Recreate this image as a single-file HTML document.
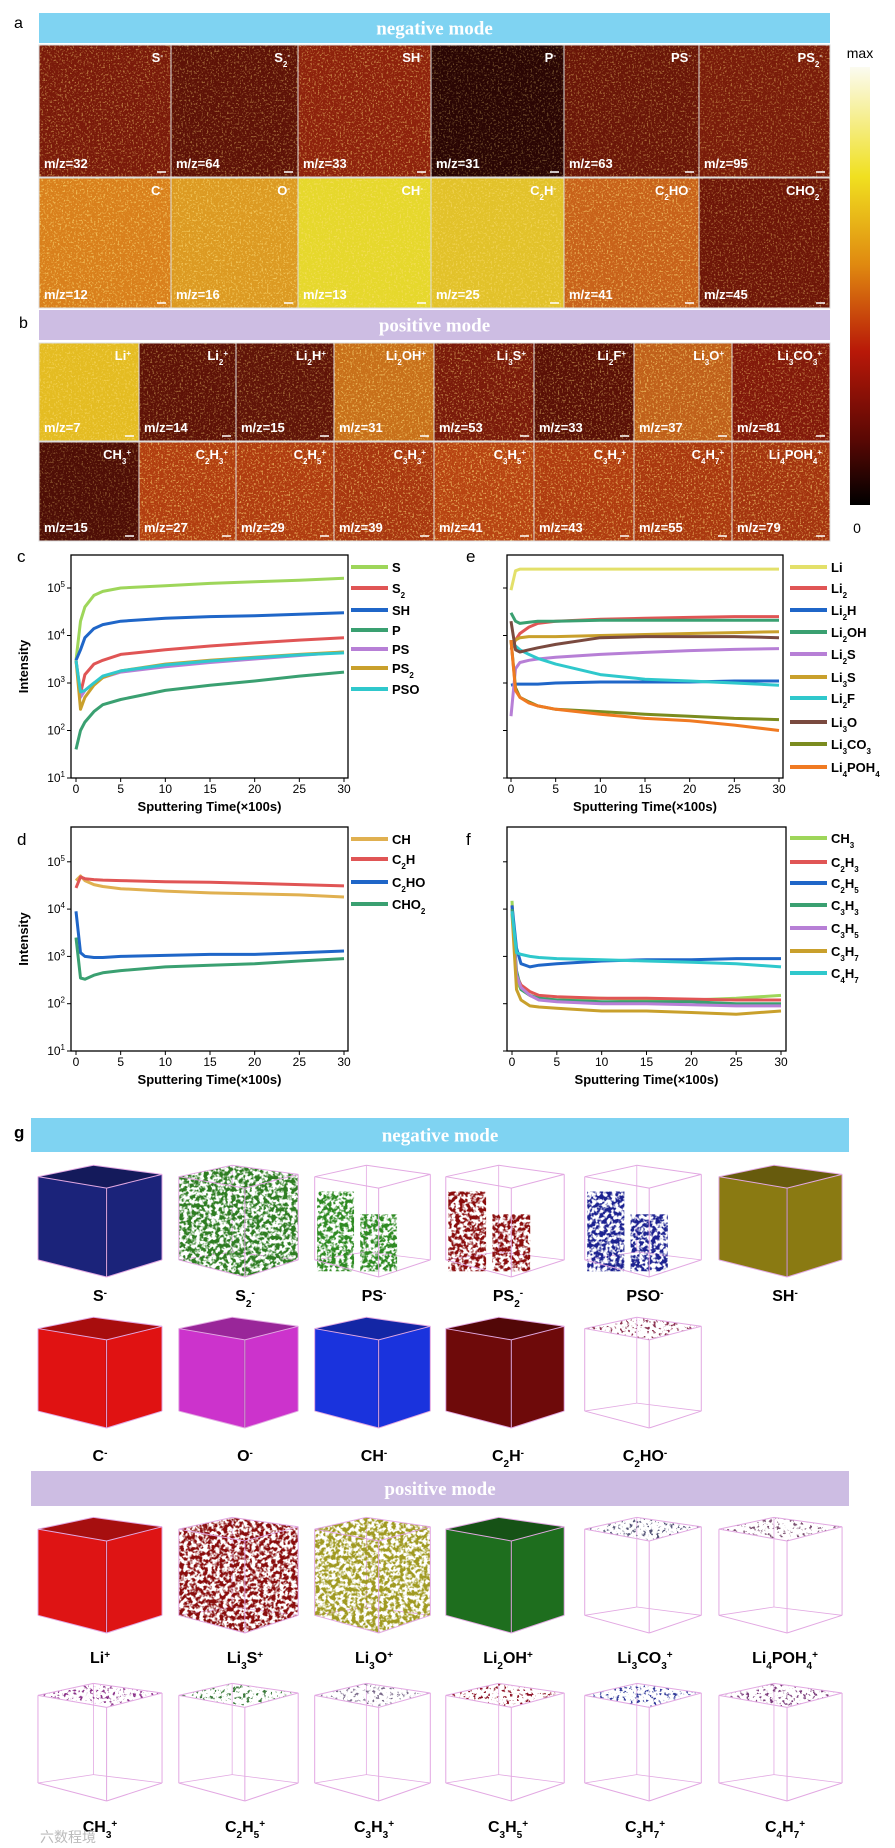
<!DOCTYPE html>
<html><head><meta charset="utf-8">
<style>
html,body{margin:0;padding:0;background:#fff;}
svg{display:block;font-family:"Liberation Sans",sans-serif;}
</style></head>
<body>
<svg id="fig" width="895" height="1848" viewBox="0 0 895 1848" xmlns="http://www.w3.org/2000/svg">
<defs>
<linearGradient id="cbar" x1="0" y1="0" x2="0" y2="1">
<stop offset="0" stop-color="#fbfbf0"/><stop offset="0.25" stop-color="#f0e020"/><stop offset="0.45" stop-color="#e08a10"/><stop offset="0.65" stop-color="#b81808"/><stop offset="0.85" stop-color="#5a0804"/><stop offset="1" stop-color="#000"/>
</linearGradient>
<filter id="speck" x="0" y="0" width="100%" height="100%">
<feTurbulence type="fractalNoise" baseFrequency="0.55" numOctaves="2" seed="4"/>
<feColorMatrix type="matrix" values="0 0 0 0 1  0 0 0 0 0.75  0 0 0 0 0.2  6 0 0 0 -3.3"/>
</filter>
<filter id="dense" x="0" y="0" width="100%" height="100%">
<feTurbulence type="fractalNoise" baseFrequency="0.25" numOctaves="3" seed="2" result="n"/>
<feColorMatrix in="n" type="matrix" values="0 0 0 0 0  0 0 0 0 0  0 0 0 0 0  6 0 0 0 -2.5" result="a"/>
<feComposite in="SourceGraphic" in2="a" operator="in"/>
</filter>
<filter id="sparse" x="0" y="0" width="100%" height="100%">
<feTurbulence type="fractalNoise" baseFrequency="0.3" numOctaves="3" seed="7" result="n"/>
<feColorMatrix in="n" type="matrix" values="0 0 0 0 0  0 0 0 0 0  0 0 0 0 0  9 0 0 0 -5.2" result="a"/>
<feComposite in="SourceGraphic" in2="a" operator="in"/>
</filter>
</defs>
</svg>
<script>
// ---------- chart data ----------
const times = [0,0.5,1,2,3,5,10,15,20,25,30];
const cNames = ["S","S_2","SH","P","PS","PS_2","PSO"];
const cS   = [3000,20000,40000,70000,85000,100000,112000,125000,135000,145000,160000];
const cS2  = [3000,600,1500,2500,3000,4000,5000,6000,7000,8000,9000];
const cSH  = [3000,5000,9000,14000,17000,20000,23000,25000,26000,28000,30000];
const cP   = [40,100,150,250,350,450,700,900,1100,1400,1700];
const cPS  = [3000,500,700,1000,1300,1700,2200,2700,3200,3800,4500];
const cPS2 = [3000,280,500,900,1300,1800,2500,3000,3500,4000,4500];
const cPSO = [3000,650,700,1000,1400,1800,2400,2900,3400,3900,4300];
const eNames = ["Li","Li_2","Li_2H","Li_2OH","Li_2S","Li_3S","Li_2F","Li_3O","Li_3CO_3","Li_4POH_4"];
const eLi    = [90000,230000,250000,250000,250000,250000,250000,250000,250000,250000,250000];
const eLi2   = [5000,8000,11000,15000,18000,20000,22000,23000,24000,25000,25000];
const eLi2H  = [900,950,950,950,950,1000,1050,1050,1050,1100,1100];
const eLi2OH = [30000,20000,18000,19000,20000,20000,21000,21000,21000,21000,21000];
const eLi2S  = [200,2000,2700,3000,3200,3500,4000,4400,4800,5100,5300];
const eLi3S  = [6000,8000,9000,9500,9500,9500,10000,10500,11000,11500,12000];
const eLi2F  = [7000,6000,5000,4000,3300,2500,1500,1200,1100,1000,900];
const eLi3O  = [20000,5000,4500,5000,5500,6500,9000,9500,9500,9500,9000];
const eLi3CO3= [8000,800,500,400,330,280,250,220,200,180,170];
const eLi4POH4=[8000,700,500,380,330,280,220,180,160,130,100];
const dNames = ["CH","C_2H","C_2HO","CHO_2"];
const dCH   = [40000,50000,40000,33000,30000,27000,24000,22000,21000,20000,18000];
const dC2H  = [28000,48000,44000,42000,41000,40000,38000,37000,35000,33000,31000];
const dC2HO = [9000,1200,1000,950,950,1000,1050,1100,1100,1200,1300];
const dCHO2 = [2500,350,330,400,450,500,600,650,700,800,900];
const fNames = ["CH_3","C_2H_3","C_2H_5","C_3H_3","C_3H_5","C_3H_7","C_4H_7"];
const fCH3  = [15000,300,200,150,130,120,130,120,120,130,150];
const fC2H3 = [12000,400,250,180,150,140,130,130,125,120,120];
const fC2H5 = [12000,1500,700,600,650,700,800,850,850,900,900];
const fC3H3 = [10000,500,200,150,130,120,110,110,110,100,100];
const fC3H5 = [9000,400,220,150,120,110,100,100,95,90,90];
const fC3H7 = [8000,200,120,90,85,80,70,70,65,60,70];
const fC4H7 = [9000,1200,1100,1000,950,900,850,800,750,700,600];
const xTicks = [0,5,10,15,20,25,30];
const yTicks = [1,2,3,4,5];

const NS="http://www.w3.org/2000/svg";
const svg=document.getElementById('fig');
function el(tag,attrs,parent){const e=document.createElementNS(NS,tag);for(const k in attrs)e.setAttribute(k,attrs[k]);(parent||svg).appendChild(e);return e;}
function rich(str,attrs,parent,fs){
  const t=el('text',attrs,parent);
  let i=0,buf='';
  const flush=()=>{if(buf){const s=el('tspan',{},t);s.textContent=buf;buf='';}};
  while(i<str.length){
    const ch=str[i];
    if((ch==='_'||ch==='^')&&i+1<str.length){
      flush();
      const s=el('tspan',{'font-size':Math.round(fs*0.65),'baseline-shift':ch==='_'?'sub':'super'},t);
      s.textContent=str[i+1];i+=2;
      const r=el('tspan',{'font-size':fs},t);r.textContent='\u200b';
    } else {buf+=ch;i++;}
  }
  flush();
  return t;
}
function txt(s,attrs,parent){const t=el('text',attrs,parent);t.textContent=s;return t;}

function banner(x,y,w,h,fill,label,name,fs){
  const g=el('g',{});
  
  
  el('rect',{x,y,width:w,height:h,fill},g);
  txt(label,{x:x+w/2,y:y+h/2+fs*0.35,'text-anchor':'middle',fill:'#fff','font-family':'"Liberation Serif",serif','font-weight':'bold','font-size':fs},g);
}
txt('a',{x:14,y:28,'font-size':16},svg);
txt('b',{x:19,y:328,'font-size':16},svg);
banner(39,13,791,30,'#7fd3f2','negative mode','negative-mode-banner-a',19);
banner(39,310,791,30,'#cdbde3','positive mode','positive-mode-banner-b',19);

const negTiles=[["S^-","m/z=32","#7a1a0a",0.45],["S_2^-","m/z=64","#5e1207",0.4],["SH^-","m/z=33","#8e220c",0.5],["P^-","m/z=31","#2a0604",0.3],["PS^-","m/z=63","#6a1608",0.4],["PS_2^-","m/z=95","#7a1c0a",0.4],
 ["C^-","m/z=12","#d9801c",0.6],["O^-","m/z=16","#dc9a22",0.6],["CH^-","m/z=13","#e6d82c",0.5],["C_2H^-","m/z=25","#e2c22a",0.5],["C_2HO^-","m/z=41","#c8621a",0.6],["CHO_2^-","m/z=45","#6e1608",0.4]];
const posTiles=[["Li^+","m/z=7","#e4bc22",0.5],["Li_2^+","m/z=14","#5e1207",0.4],["Li_2H^+","m/z=15","#601408",0.4],["Li_2OH^+","m/z=31","#c8701a",0.6],["Li_3S^+","m/z=53","#7a1a0a",0.5],["Li_2F^+","m/z=33","#5a1006",0.45],["Li_3O^+","m/z=37","#c0601a",0.6],["Li_3CO_3^+","m/z=81","#82190a",0.45],
 ["CH_3^+","m/z=15","#4e0e06",0.3],["C_2H_3^+","m/z=27","#b23e10",0.6],["C_2H_5^+","m/z=29","#b03c10",0.6],["C_3H_3^+","m/z=39","#a8360f",0.6],["C_3H_5^+","m/z=41","#b84412",0.65],["C_3H_7^+","m/z=43","#b03c10",0.6],["C_4H_7^+","m/z=55","#aa380f",0.6],["Li_4POH_4^+","m/z=79","#a4340f",0.6]];
function tile(x,y,w,h,d,idx){
  const g=el('g',{});
  
  
  el('rect',{x,y,width:w,height:h,fill:d[2]},g);
  el('rect',{x,y,width:w,height:h,fill:'#000',filter:'url(#speck)',opacity:d[3]},g);
  el('rect',{x,y,width:w,height:h,fill:'none',stroke:'#ddd','stroke-width':1},g);
  rich(d[0],{x:x+w-8,y:y+17,'text-anchor':'end',fill:'#fff','font-weight':'bold','font-size':13},g,13);
  txt(d[1],{x:x+5,y:y+h-9,fill:'#fff','font-weight':'bold','font-size':13},g);
  el('line',{x1:x+w-14,y1:y+h-5,x2:x+w-5,y2:y+h-5,stroke:'#fff','stroke-width':1.5},g);
}
const nx=[39,171,298,431,564,699,830];
for(let i=0;i<12;i++){const c=i%6,r=Math.floor(i/6);tile(nx[c],45+r*133,nx[c+1]-nx[c],r?130:132,negTiles[i],i);}
const px=[39,139,236,334,434,534,634,732,830];
for(let i=0;i<16;i++){const c=i%8,r=Math.floor(i/8);tile(px[c],343+r*99,px[c+1]-px[c],r?99:98,posTiles[i],i);}
const cb=el('g',{});


el('rect',{x:850,y:67,width:20,height:438,fill:'url(#cbar)'},cb);
txt('max',{x:860,y:58,'text-anchor':'middle','font-size':14},cb);
txt('0',{x:857,y:533,'text-anchor':'middle','font-size':14},cb);

const colors={g:'#9ed65a',r:'#e05555',b:'#1f66c8',gr:'#3aa071',p:'#b77fd6',au:'#c9a02c',cy:'#2fc8cc',li:'#e3e06a',br:'#7a4a3f',ol:'#7b8c1f',or:'#f07a22',ch:'#e0b050'};
function chart(cfg){
  const g=el('g',{});
  
  
  const X=t=>cfg.x0+t/30*(cfg.x30-cfg.x0);
  const Y=v=>cfg.yb-(Math.log10(v)-1)*cfg.dec;
  txt(cfg.letter,{x:cfg.lx,y:cfg.ly,'font-size':17},g);
  cfg.series.forEach((s,i)=>{
    const pts=times.map((t,j)=>X(t).toFixed(1)+','+Y(s.v[j]).toFixed(1)).join(' ');
    const pl=el('polyline',{points:pts,fill:'none',stroke:s.c,'stroke-width':3,'stroke-linejoin':'round'},g);
    
    
    const ly=cfg.legY[i];
    const lg=el('g',{},g);
    
    
    el('line',{x1:cfg.legX,y1:ly,x2:cfg.legX+37,y2:ly,stroke:s.c,'stroke-width':4},lg);
    rich(s.n,{x:cfg.legX+41,y:ly+5,'font-weight':'bold','font-size':13},lg,13);
  });
  el('rect',{x:cfg.bx,y:cfg.by,width:cfg.bw,height:cfg.yb-cfg.by,fill:'none',stroke:'#000','stroke-width':1.3},g);
  xTicks.forEach(t=>{
    el('line',{x1:X(t),y1:cfg.yb,x2:X(t),y2:cfg.yb+4,stroke:'#000'},g);
    txt(String(t),{x:X(t),y:cfg.yb+15,'text-anchor':'middle','font-size':12},g);
  });
  yTicks.forEach(p=>{
    const y=cfg.yb-(p-1)*cfg.dec;
    el('line',{x1:cfg.bx,y1:y,x2:cfg.bx-4,y2:y,stroke:'#000'},g);
    if(cfg.ylabels){
      const t=el('text',{x:cfg.bx-6,y:y+4,'text-anchor':'end','font-size':12},g);
      const a=el('tspan',{},t);a.textContent='10';
      const b=el('tspan',{'font-size':8,dy:-5},t);b.textContent=String(p);
    }
  });
  const xt=txt('Sputtering Time(\u00d7100s)',{x:(cfg.bx+cfg.bx+cfg.bw)/2,y:cfg.yb+33,'text-anchor':'middle','font-weight':'bold','font-size':13},g);
  
  if(cfg.ylabels){
    const cy=(cfg.by+cfg.yb)/2;
    const yt=txt('Intensity',{x:0,y:0,transform:`translate(28,${cy}) rotate(-90)`,'text-anchor':'middle','font-weight':'bold','font-size':13},g);
    
  }
}
chart({name:'chart-c',letter:'c',lx:17,ly:562,bx:71,bw:277,by:555,yb:778,dec:47.5,x0:76,x30:344,ylabels:true,legX:351,legY:[567,588,610,630,649,668,689],
 series:[{n:'S',v:cS,c:colors.g},{n:'S_2',v:cS2,c:colors.r},{n:'SH',v:cSH,c:colors.b},{n:'P',v:cP,c:colors.gr},{n:'PS',v:cPS,c:colors.p},{n:'PS_2',v:cPS2,c:colors.au},{n:'PSO',v:cPSO,c:colors.cy}]});
chart({name:'chart-e',letter:'e',lx:466,ly:562,bx:507,bw:276,by:555,yb:778,dec:47.5,x0:511,x30:779,ylabels:false,legX:790,legY:[567,588,610,632,654,677,698,722,744,767],
 series:[{n:'Li',v:eLi,c:colors.li},{n:'Li_2',v:eLi2,c:colors.r},{n:'Li_2H',v:eLi2H,c:colors.b},{n:'Li_2OH',v:eLi2OH,c:colors.gr},{n:'Li_2S',v:eLi2S,c:colors.p},{n:'Li_3S',v:eLi3S,c:colors.au},{n:'Li_2F',v:eLi2F,c:colors.cy},{n:'Li_3O',v:eLi3O,c:colors.br},{n:'Li_3CO_3',v:eLi3CO3,c:colors.ol},{n:'Li_4POH_4',v:eLi4POH4,c:colors.or}]});
chart({name:'chart-d',letter:'d',lx:17,ly:845,bx:71,bw:277,by:827,yb:1051,dec:47.3,x0:76,x30:344,ylabels:true,legX:351,legY:[839,859,882,904],
 series:[{n:'CH',v:dCH,c:colors.ch},{n:'C_2H',v:dC2H,c:colors.r},{n:'C_2HO',v:dC2HO,c:colors.b},{n:'CHO_2',v:dCHO2,c:colors.gr}]});
chart({name:'chart-f',letter:'f',lx:466,ly:845,bx:507,bw:279,by:827,yb:1051,dec:47.3,x0:512,x30:781,ylabels:false,legX:790,legY:[838,862,883,905,928,951,973],
 series:[{n:'CH_3',v:fCH3,c:colors.g},{n:'C_2H_3',v:fC2H3,c:colors.r},{n:'C_2H_5',v:fC2H5,c:colors.b},{n:'C_3H_3',v:fC3H3,c:colors.gr},{n:'C_3H_5',v:fC3H5,c:colors.p},{n:'C_3H_7',v:fC3H7,c:colors.au},{n:'C_4H_7',v:fC4H7,c:colors.cy}]});

txt('g',{x:14,y:1138,'font-size':17,'font-weight':'bold'},svg);
banner(31,1118,818,34,'#7fd3f2','negative mode','negative-mode-banner-g',19);
banner(31,1471,818,35,'#cdbde3','positive mode','positive-mode-banner-g',19);
function cube(x,y,w,h,type,color,label,lx,ly){
  const g=el('g',{});
  
  
  const P=(a,b)=>[x+a*w,y+b*h];
  const A=P(0.03,0.12),B=P(0.45,0.02),C=P(0.97,0.1),D=P(0.55,0.22),E=P(0.55,1),F=P(0.03,0.85),G=P(0.97,0.85),H=P(0.45,0.78);
  const ps=a=>a.map(p=>p.join(',')).join(' ');
  const wire='#e2a8e2';
  [[B,H],[H,F],[H,G]].forEach(([p,q])=>el('line',{x1:p[0],y1:p[1],x2:q[0],y2:q[1],stroke:wire,'stroke-width':0.8},g));
  if(type==='solid'){
    el('polygon',{points:ps([A,B,C,G,E,F]),fill:color},g);
    el('polygon',{points:ps([A,B,C,D]),fill:'#000',opacity:0.25},g);
    el('line',{x1:D[0],y1:D[1],x2:E[0],y2:E[1],stroke:'#000','stroke-opacity':0.2,'stroke-width':2},g);
  } else if(type==='dense'||type==='sparse'){
    el('polygon',{points:ps([A,B,C,G,E,F]),fill:color,filter:`url(#${type})`},g);
  } else if(type==='half'){
    el('rect',{x:x+0.05*w,y:y+0.25*h,width:0.3*w,height:0.7*h,fill:color,filter:'url(#dense)'},g);
    el('rect',{x:x+0.4*w,y:y+0.45*h,width:0.3*w,height:0.5*h,fill:color,filter:'url(#dense)'},g);
  } else if(type==='top'){
    el('polygon',{points:ps([A,B,C,D]),fill:color,filter:'url(#sparse)'},g);
  }
  [[A,B],[B,C],[C,D],[D,A],[A,F],[C,G],[D,E],[F,E],[E,G]].forEach(([p,q])=>el('line',{x1:p[0],y1:p[1],x2:q[0],y2:q[1],stroke:wire,'stroke-width':1},g));
  rich(label,{x:lx,y:ly,'text-anchor':'middle','font-weight':'bold','font-size':16},g,16);
}
const gx=[[34,132],[175,127],[311,123],[442,126],[581,124],[715,131]];
const lxs=[100,245,374,508,645,785];
const row1=[['solid','#1b237a','S^-'],['dense','#2e7d22','S_2^-'],['half','#2e8a22','PS^-'],['half','#8a0d10','PS_2^-'],['half','#1b2090','PSO^-'],['solid','#8a7a12','SH^-']];
const row2=[['solid','#e01212','C^-'],['solid','#cc33cc','O^-'],['solid','#1a33dd','CH^-'],['solid','#6e0a0a','C_2H^-'],['top','#8a3050','C_2HO^-']];
const row3=[['solid','#de1414','Li^+'],['dense','#8a0e0e','Li_3S^+'],['dense','#a09a20','Li_3O^+'],['solid','#1e6e1e','Li_2OH^+'],['top','#555577','Li_3CO_3^+'],['top','#7a5070','Li_4POH_4^+']];
const row4=[['top','#8a3088','CH_3^+'],['top','#3a7a3a','C_2H_5^+'],['top','#7a6a8a','C_3H_3^+'],['top','#8a1020','C_3H_5^+'],['top','#303a9a','C_3H_7^+'],['top','#7a3a7a','C_4H_7^+']];
row1.forEach((d,i)=>cube(gx[i][0],1163,gx[i][1],114,d[0],d[1],d[2],lxs[i],1301));
row2.forEach((d,i)=>cube(gx[i][0],1315,gx[i][1],113,d[0],d[1],d[2],lxs[i],1461));
row3.forEach((d,i)=>cube(gx[i][0],1515,gx[i][1],118,d[0],d[1],d[2],lxs[i],1663));
row4.forEach((d,i)=>cube(gx[i][0],1681,gx[i][1],120,d[0],d[1],d[2],lxs[i],1832));
const wm=txt('\u516d\u6570\u7a0b\u5883',{x:40,y:1842,fill:'#bbb','font-size':14,'font-family':'"Liberation Sans","Noto Sans CJK SC",sans-serif'},svg);


</script>
</body></html>
